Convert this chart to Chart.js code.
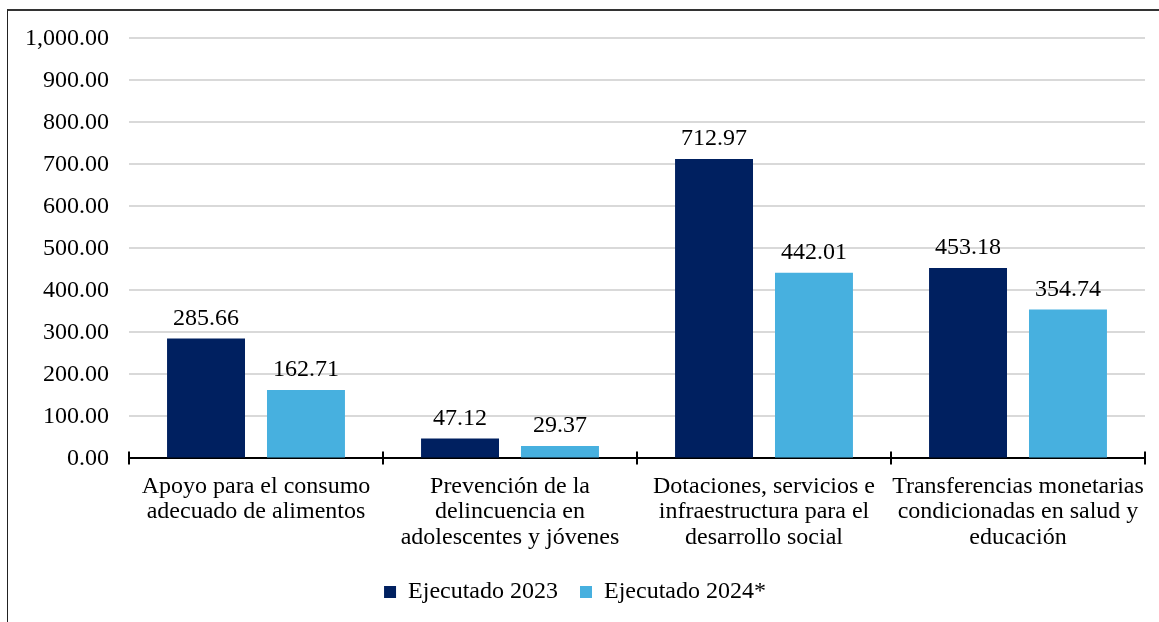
<!DOCTYPE html>
<html>
<head>
<meta charset="utf-8">
<script src="https://cdn.jsdelivr.net/npm/chart.js@4/dist/chart.umd.min.js"></script>
<style>
  html, body { margin: 0; padding: 0; background: #fff; overflow: hidden; }
  #frame { position: absolute; left: 7px; top: 9px; width: 1200px; height: 700px;
           border-left: 1.5px solid #222; border-top: 2px solid #333; }
  #wrap { position: absolute; left: 0; top: 4px; width: 1159px; height: 618px; }
</style>
</head>
<body>
<div id="frame"></div>
<div id="wrap"><canvas id="myChart"></canvas></div>
<script>
let labels = [
    ["Apoyo para el consumo", "adecuado de alimentos"],
    ["Prevención de la", "delincuencia en", "adolescentes y jóvenes"],
    ["Dotaciones, servicios e", "infraestructura para el", "desarrollo social"],
    ["Transferencias monetarias", "condicionadas en salud y", "educación"]
];

let ejecutado2023 = [285.66, 47.12, 712.97, 453.18];
let ejecutado2024 = [162.71, 29.37, 442.01, 354.74];

let yTicks = [0, 100, 200, 300, 400, 500, 600, 700, 800, 900, 1000];

const FONT = "'Liberation Serif', 'Times New Roman', serif";

function fmt(v) {
    return v.toLocaleString('en-US', { minimumFractionDigits: 2, maximumFractionDigits: 2 });
}

// value labels above bars + axis ticks crossing the x axis line
const barLabels = {
    id: 'barLabels',
    afterDatasetsDraw(chart) {
        const ctx = chart.ctx;
        ctx.save();
        ctx.font = '24px ' + FONT;
        ctx.fillStyle = '#000';
        ctx.textAlign = 'center';
        ctx.textBaseline = 'bottom';
        chart.data.datasets.forEach(function(ds, i) {
            chart.getDatasetMeta(i).data.forEach(function(bar, j) {
                ctx.fillText(fmt(ds.data[j]), bar.x, bar.y - 8);
            });
        });
        const xs = chart.scales.x;
        const bottom = chart.chartArea.bottom;
        ctx.strokeStyle = '#000';
        ctx.lineWidth = 2;
        for (let k = 0; k <= labels.length; k++) {
            const px = xs.left + (xs.right - xs.left) * k / labels.length;
            ctx.beginPath();
            ctx.moveTo(px, bottom - 7);
            ctx.lineTo(px, bottom + 6);
            ctx.stroke();
        }
        ctx.restore();
    }
};

const data = {
    labels: labels,
    datasets: [{
        label: 'Ejecutado 2023',
        data: ejecutado2023,
        backgroundColor: '#002060',
        categoryPercentage: 0.787,
        barPercentage: 0.78
    }, {
        label: 'Ejecutado 2024*',
        data: ejecutado2024,
        backgroundColor: '#47b0df',
        categoryPercentage: 0.787,
        barPercentage: 0.78
    }]
};

const config = {
    type: 'bar',
    data: data,
    options: {
        responsive: false,
        animation: false,
        layout: { padding: { left: 5, right: 14, top: 26, bottom: 8 } },
        scales: {
            y: {
                min: 0,
                max: 1000,
                afterBuildTicks: function(scale) {
                    scale.ticks = yTicks.map(function(v) { return { value: v }; });
                },
                border: { display: false },
                grid: { color: '#d9d9d9', lineWidth: 2, drawTicks: false },
                ticks: {
                    padding: 20,
                    color: '#000',
                    font: { family: FONT, size: 24 },
                    callback: function(v) { return fmt(v); }
                }
            },
            x: {
                border: { display: true, color: '#000', width: 2 },
                grid: { display: false },
                ticks: {
                    padding: 8,
                    color: '#000',
                    maxRotation: 0,
                    autoSkip: false,
                    font: { family: FONT, size: 24, lineHeight: 1.05 }
                }
            }
        },
        plugins: {
            legend: {
                position: 'bottom',
                labels: {
                    color: '#000',
                    boxWidth: 12,
                    boxHeight: 12,
                    padding: 22,
                    font: { family: FONT, size: 24 }
                }
            },
            tooltip: { enabled: false }
        }
    },
    plugins: [barLabels]
};

const canvas = document.getElementById('myChart');
canvas.width = 1159;
canvas.height = 618;
const chart = new Chart(canvas, config);
</script>
</body>
</html>
